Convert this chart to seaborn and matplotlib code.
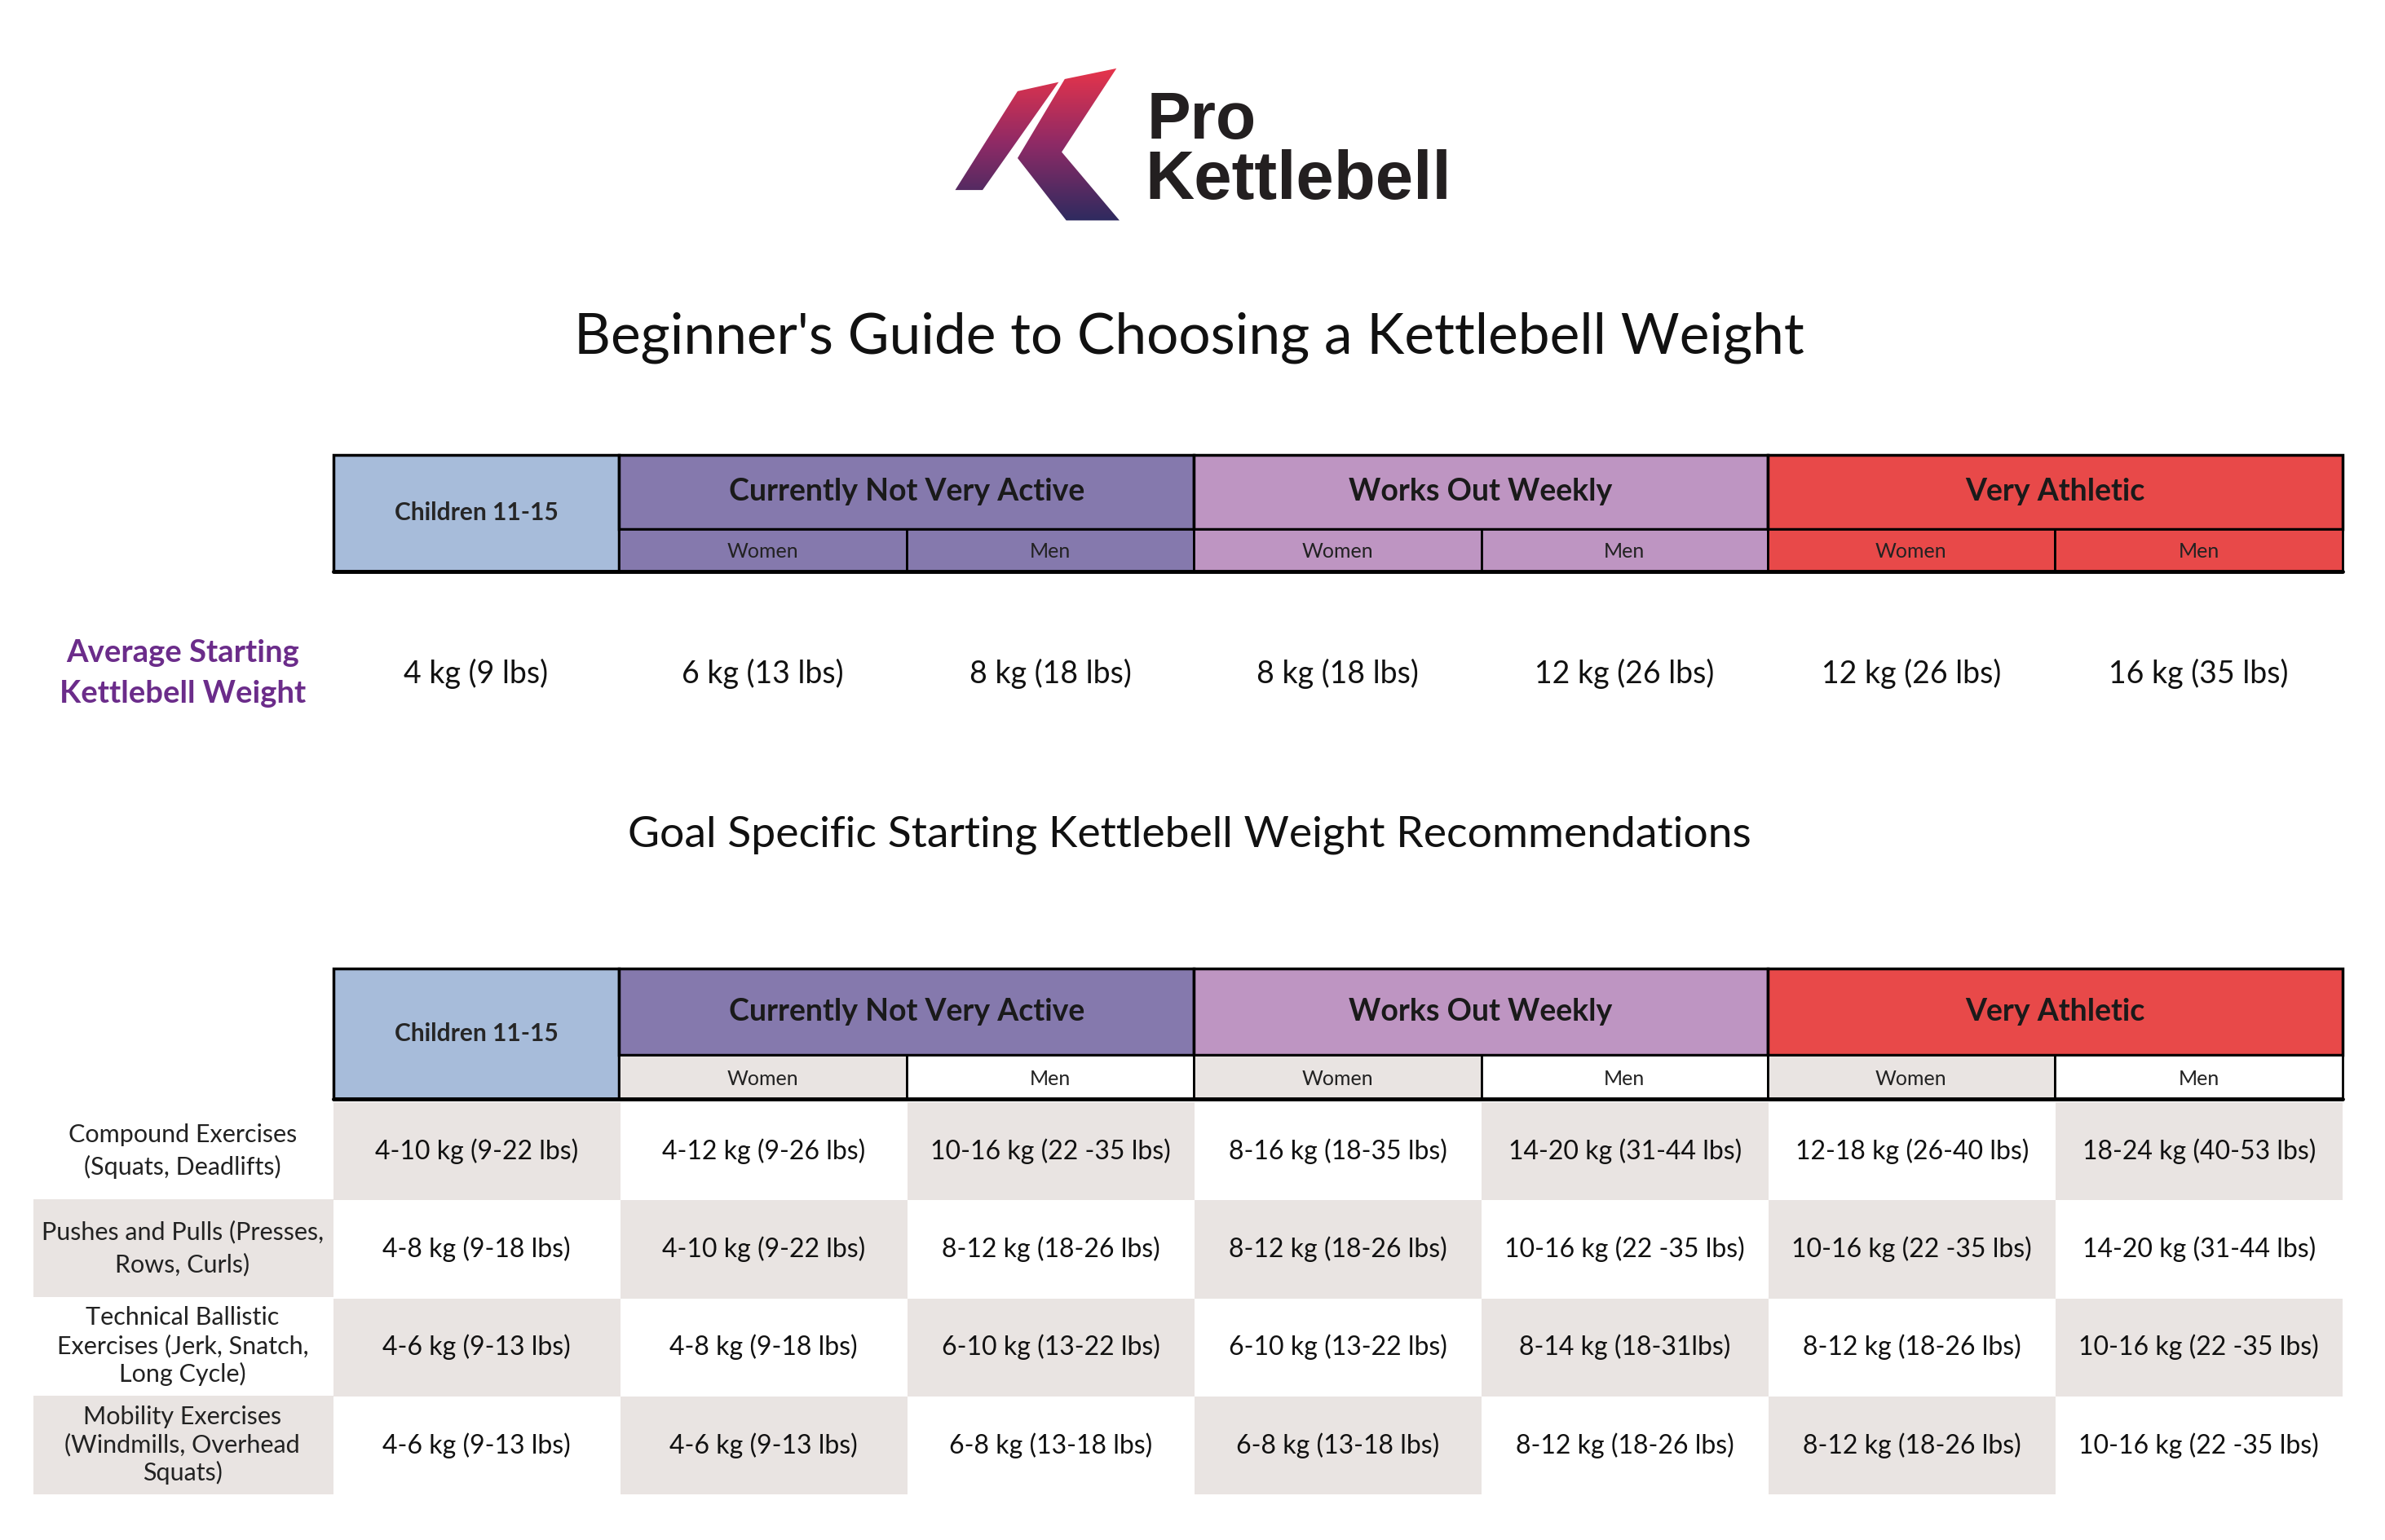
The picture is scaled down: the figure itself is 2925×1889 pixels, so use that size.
import numpy as np
import pandas as pd
import matplotlib
matplotlib.use('Agg')
import matplotlib.pyplot as plt
import seaborn as sns
from matplotlib.patches import Rectangle, Polygon
from matplotlib.colors import ListedColormap, LinearSegmentedColormap

sns.set_theme(style='white')
plt.rcParams['font.family'] = ['Lato', 'DejaVu Sans']

groups = ['Children 11-15', 'Currently Not Very Active', 'Works Out Weekly', 'Very Athletic']
group_colors = ['#A7BCDA', '#8579AD', '#BE95C2', '#E84949']
sexes = ['Women', 'Men']
avg_weights = ['4 kg (9 lbs)', '6 kg (13 lbs)', '8 kg (18 lbs)', '8 kg (18 lbs)',
               '12 kg (26 lbs)', '12 kg (26 lbs)', '16 kg (35 lbs)']
exercises = ['Compound Exercises\n(Squats, Deadlifts)',
             'Pushes and Pulls (Presses,\nRows, Curls)',
             'Technical Ballistic\nExercises (Jerk, Snatch,\nLong Cycle)',
             'Mobility Exercises\n(Windmills, Overhead\nSquats)']
goal_weights = [
    ['4-10 kg (9-22 lbs)', '4-12 kg (9-26 lbs)', '10-16 kg (22 -35 lbs)', '8-16 kg (18-35 lbs)',
     '14-20 kg (31-44 lbs)', '12-18 kg (26-40 lbs)', '18-24 kg (40-53 lbs)'],
    ['4-8 kg (9-18 lbs)', '4-10 kg (9-22 lbs)', '8-12 kg (18-26 lbs)', '8-12 kg (18-26 lbs)',
     '10-16 kg (22 -35 lbs)', '10-16 kg (22 -35 lbs)', '14-20 kg (31-44 lbs)'],
    ['4-6 kg (9-13 lbs)', '4-8 kg (9-18 lbs)', '6-10 kg (13-22 lbs)', '6-10 kg (13-22 lbs)',
     '8-14 kg (18-31lbs)', '8-12 kg (18-26 lbs)', '10-16 kg (22 -35 lbs)'],
    ['4-6 kg (9-13 lbs)', '4-6 kg (9-13 lbs)', '6-8 kg (13-18 lbs)', '6-8 kg (13-18 lbs)',
     '8-12 kg (18-26 lbs)', '8-12 kg (18-26 lbs)', '10-16 kg (22 -35 lbs)'],
]

W, H = 1568, 1013
GREY = '#E9E4E2'
fig = plt.figure(figsize=(29.25, 18.89), dpi=100)
ax = fig.add_axes([0, 0, 1, 1])
ax.set_xlim(0, W)
ax.set_ylim(H, 0)
ax.axis('off')

# logo
grad = LinearSegmentedColormap.from_list('k', ['#E8344A', '#8E2A66', '#2E2B5F'])
left = Polygon([(628, 125), (669, 60), (696, 54), (646, 125)], closed=True, fc='none', ec='none')
right = Polygon([(700, 52), (734, 45), (698, 100), (736, 145), (701, 145), (669, 104)],
                closed=True, fc='none', ec='none')
for p in (left, right):
    ax.add_patch(p)
    im = ax.imshow(np.linspace(0, 1, 100)[:, None], cmap=grad, aspect='auto',
                   extent=(620, 745, 146, 44), zorder=2)
    im.set_clip_path(p)
ax.set_xlim(0, W)
ax.set_ylim(H, 0)
ax.text(754, 91, 'Pro', fontsize=58, fontweight='bold', color='#231F20',
        family=['Liberation Sans'], va='baseline')
ax.text(753, 131, 'Kettlebell', fontsize=60, fontweight='bold', color='#231F20',
        family=['Liberation Sans'], va='baseline')

ax.text(782, 222, "Beginner's Guide to Choosing a Kettlebell Weight", fontsize=50,
        ha='center', va='center', color='#111111')
ax.text(782, 549, 'Goal Specific Starting Kettlebell Weight Recommendations', fontsize=38.5,
        ha='center', va='center', color='#111111')

xs = [219, 407, 596, 785, 974, 1162, 1351, 1540]


def header(top, mid, bot, sub_colored):
    ax.add_patch(Rectangle((xs[0], top), xs[1] - xs[0], bot - top, fc=group_colors[0],
                           ec='black', lw=2.5))
    ax.text((xs[0] + xs[1]) / 2, (top + bot) / 2, groups[0], fontsize=21.5, fontweight='bold',
            ha='center', va='center')
    for g in range(1, 4):
        x0 = xs[2 * g - 1]
        x1 = xs[2 * g + 1]
        ax.add_patch(Rectangle((x0, top), x1 - x0, mid - top, fc=group_colors[g], ec='black', lw=2.5))
        ax.text((x0 + x1) / 2, (top + mid) / 2, groups[g], fontsize=27, fontweight='bold',
                ha='center', va='center', color='#1a1a1a')
        for s in range(2):
            c0 = xs[2 * g - 1 + s]
            if sub_colored:
                fc = group_colors[g]
            else:
                fc = GREY if s == 0 else 'white'
            ax.add_patch(Rectangle((c0, mid), xs[2 * g + s] - c0, bot - mid, fc=fc, ec='black', lw=2))
            ax.text(c0 + (xs[2 * g + s] - c0) / 2, (mid + bot) / 2 + 1, sexes[s], fontsize=18,
                    ha='center', va='center', color='#222222')
    ax.plot([xs[0], xs[-1]], [bot, bot], color='black', lw=3.5)


header(299, 348, 376, True)
header(637, 694, 723, False)

ax.text(120, 443, 'Average Starting\nKettlebell Weight', fontsize=27.5, fontweight='bold',
        color='#6B2C8A', ha='center', va='center', linespacing=1.55)
for j, v in enumerate(avg_weights):
    ax.text((xs[j] + xs[j + 1]) / 2, 443, v, fontsize=27, ha='center', va='center', color='#111111')

row_y = [725, 789, 853, 918, 983]
for i, lab in enumerate(exercises):
    if i % 2 == 1:
        ax.add_patch(Rectangle((22, row_y[i]), xs[0] - 22, row_y[i + 1] - row_y[i], fc=GREY, ec='none'))
    ax.text(120, (row_y[i] + row_y[i + 1]) / 2, lab, fontsize=22, ha='center', va='center',
            color='#222222', linespacing=1.45 if i < 2 else 1.25)

# body of goal table as heatmap
pattern = pd.DataFrame([[(i + j + 1) % 2 for j in range(7)] for i in range(4)])
hax = fig.add_axes([xs[0] / W, 1 - row_y[-1] / H, (xs[-1] - xs[0]) / W, (row_y[-1] - row_y[0]) / H])
sns.heatmap(pattern, annot=np.array(goal_weights), fmt='', cbar=False, ax=hax,
            cmap=ListedColormap(['white', GREY]), vmin=0, vmax=1,
            annot_kws={'fontsize': 23, 'color': '#111111'})
hax.set_xticks([])
hax.set_yticks([])
hax.set_xlabel('')
hax.set_ylabel('')

fig.savefig('out.png', dpi=100, facecolor='white')
